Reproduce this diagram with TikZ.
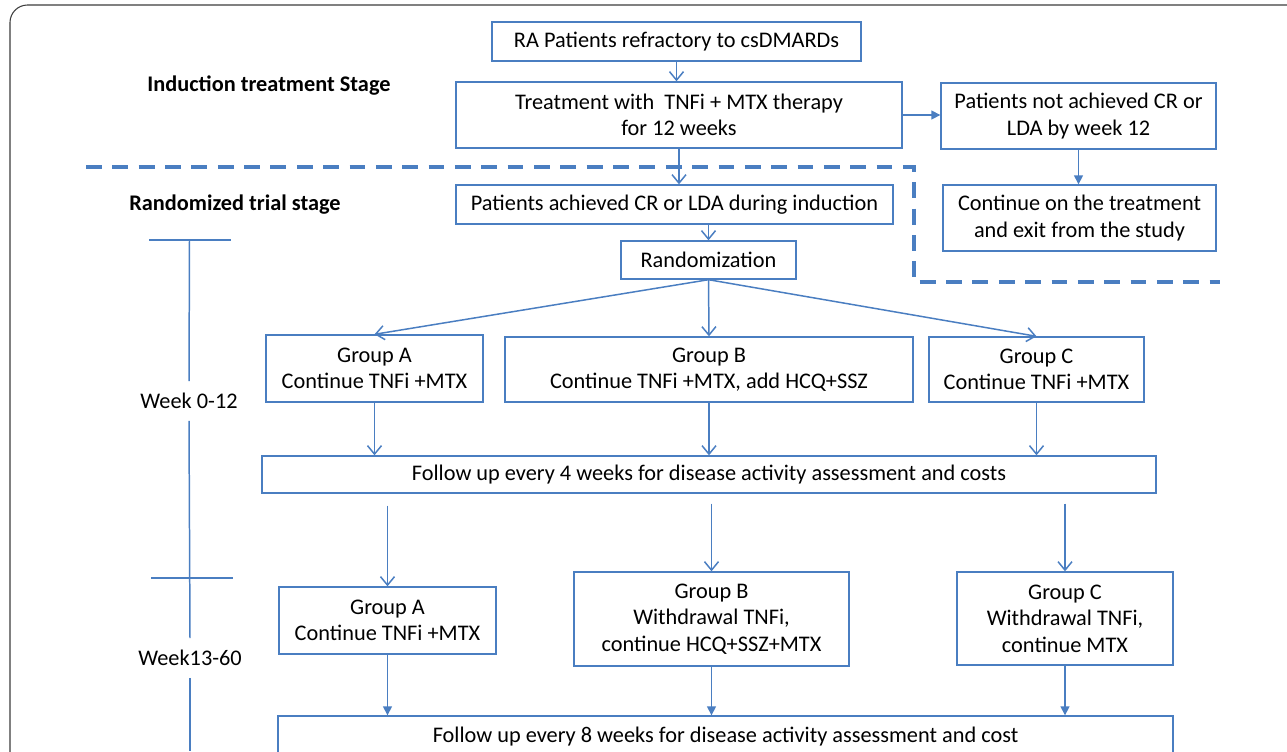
\documentclass[tikz,border=0pt]{standalone}
\usepackage{fontspec}
\setmainfont{Carlito}
\usepackage{tikz}
\usetikzlibrary{arrows.meta,positioning}
\definecolor{trialblue}{RGB}{74,126,193}
\definecolor{framegray}{RGB}{60,60,60}
\tikzset{
  box/.style      = {draw=trialblue,line width=0.8pt,fill=white,align=center,
                     font=\fontsize{12.7}{15}\selectfont,inner sep=0pt},
  stagelabel/.style = {font=\fontsize{12.7}{15}\selectfont\bfseries},
  weeklabel/.style  = {font=\fontsize{12.7}{15}\selectfont,
                     minimum height=0.78cm,inner sep=0pt},
  arrow/.style    = {-{Straight Barb[length=0.17cm,width=0.28cm]},
                     line width=0.85pt,color=trialblue},
  farrow/.style   = {-{Triangle[length=0.18cm,width=0.18cm]},
                     line width=0.85pt,color=trialblue},
  timeline/.style = {line width=0.85pt,color=trialblue},
  split/.style    = {draw=trialblue,line width=2.2pt,
                     dash pattern=on 9pt off 6pt},
}

\begin{document}
\begin{tikzpicture}[x=0.02cm,y=-0.02cm]
  \useasboundingbox (0,0) rectangle (1287,751);
  \clip (0,0) rectangle (1287,751);
  \draw[framegray,line width=0.6pt,rounded corners=0.35cm] (10,5) rectangle (1330,820);

  % induction stage
  \node[stagelabel] (induct) at (269,86) {Induction treatment Stage};
  \node[box,minimum width=7.38cm,minimum height=0.78cm] (ra) at (676.5,41.5)
    {RA Patients refractory to csDMARDs};
  \node[box,minimum width=8.92cm,minimum height=1.32cm] (treat) at (679,115)
    {Treatment with~ TNFi + MTX therapy\\for 12 weeks};
  \node[box,minimum width=5.5cm,minimum height=1.32cm] (notach) at (1078.5,116)
    {Patients not achieved CR or\\LDA by week 12};
  \node[box,minimum width=5.46cm,minimum height=1.32cm] (exit) at (1079.5,218)
    {Continue on the treatment\\and exit from the study};

  \draw[split] (86,167) -| (914,282) -- (1220,282);

  % randomized stage
  \node[stagelabel] (randstage) at (235,205) {Randomized trial stage};
  \node[box,minimum width=8.74cm,minimum height=0.78cm] (achieved) at (674.5,204.5)
    {Patients achieved CR or LDA during induction};
  \node[box,minimum width=3.5cm,minimum height=0.76cm] (rand) at (708.5,260)
    {Randomization};

  \node[box,minimum width=4.34cm,minimum height=1.34cm] (grpa) at (374.5,368.5)
    {Group A\\Continue TNFi +MTX};
  \node[box,minimum width=8.16cm,minimum height=1.3cm] (grpb) at (709,369.5)
    {Group B\\Continue TNFi +MTX, add HCQ+SSZ};
  \node[box,minimum width=4.3cm,minimum height=1.3cm] (grpc) at (1036.5,369.5)
    {Group C\\Continue TNFi +MTX};
  \node[box,minimum width=17.88cm,minimum height=0.74cm] (follow4) at (709,474.5)
    {Follow up every 4 weeks for disease activity assessment and costs};

  \node[box,minimum width=4.34cm,minimum height=1.34cm] (grpa2) at (387.5,620.5)
    {Group A\\Continue TNFi +MTX};
  \node[box,minimum width=5.5cm,minimum height=1.88cm] (grpb2) at (711.5,619)
    {Group B\\Withdrawal TNFi,\\continue HCQ+SSZ+MTX};
  \node[box,minimum width=4.32cm,minimum height=1.86cm] (grpc2) at (1065,618.5)
    {Group C\\Withdrawal TNFi,\\continue MTX};
  \node[box,minimum width=17.9cm,minimum height=0.84cm] (follow8) at (725.5,737)
    {Follow up every 8 weeks for disease activity assessment and cost};

  % timeline
  \node[weeklabel] (wk1) at (189,401) {Week 0-12};
  \node[weeklabel] (wk2) at (190,658) {Week13-60};
  \coordinate (tltop) at (189.5,240);
  \coordinate (tlmid) at (190,578);
  \coordinate (tlend) at (190,751);
  \draw[timeline] (149,240) -- (231,240);
  \draw[timeline] (151,578) -- (233,578);
  \draw[timeline] (tltop) -- (wk1.north);
  \draw[timeline] (wk1.south) -- (wk2.north);
  \draw[timeline] (wk2.south) -- (tlend);

  % connectors
  \draw[arrow] (ra.south) -- (ra.south |- treat.north);
  \draw[farrow] (treat.east) -- (treat.east -| notach.west);
  \draw[farrow] (notach.south) -- (notach.south |- exit.north);
  \draw[arrow] (treat.south) -- (treat.south |- achieved.north);
  \draw[arrow] (rand.north |- achieved.south) -- (rand.north);
  \draw[arrow] (rand.south) -- (grpa.north);
  \draw[arrow] (rand.south) -- (grpb.north);
  \draw[arrow] (rand.south) -- (grpc.north);
  \draw[arrow] (grpa.south) -- (grpa.south |- follow4.north);
  \draw[arrow] (grpb.south) -- (grpb.south |- follow4.north);
  \draw[arrow] (grpc.south) -- (grpc.south |- follow4.north);
  \draw[arrow,shorten <=0.24cm] (grpa2.north |- follow4.south) -- (grpa2.north);
  \draw[arrow,shorten <=0.2cm] (grpb2.north |- follow4.south) -- (grpb2.north);
  \draw[arrow,shorten <=0.2cm] (grpc2.north |- follow4.south) -- (grpc2.north);
  \draw[farrow] (grpa2.south) -- (grpa2.south |- follow8.north);
  \draw[farrow] (grpb2.south) -- (grpb2.south |- follow8.north);
  \draw[farrow] (grpc2.south) -- (grpc2.south |- follow8.north);
\end{tikzpicture}
\end{document}
